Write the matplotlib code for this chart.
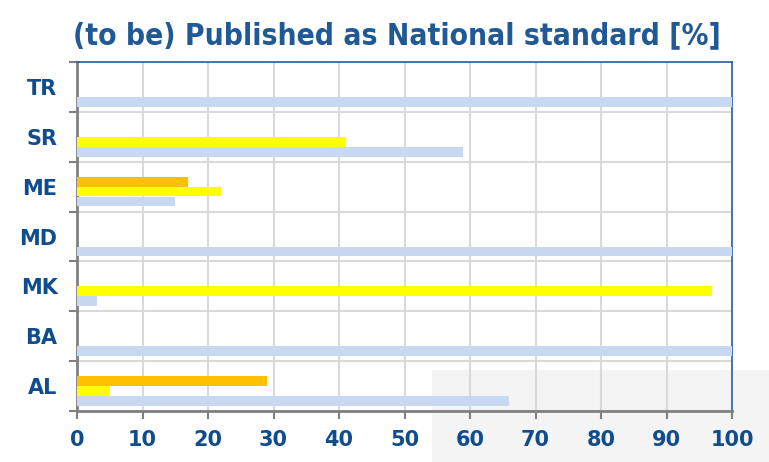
import matplotlib
matplotlib.use("Agg")
import matplotlib.pyplot as plt
from matplotlib.patches import Rectangle
import numpy as np

categories = ["AL", "BA", "MK", "MD", "ME", "SR", "TR"]
blue_vals = [66, 100, 3, 100, 15, 59, 100]
yellow_vals = [5, 0, 97, 0, 22, 41, 0]
orange_vals = [29, 0, 0, 0, 17, 0, 0]
x_ticks = [0, 10, 20, 30, 40, 50, 60, 70, 80, 90, 100]
title = "(to be) Published as National standard [%]"

W, H = 769, 462
fig = plt.figure(figsize=(W / 100, H / 100), dpi=100)
fig.patch.set_facecolor("white")
bg = Rectangle((432 / W, 0), 1 - 432 / W, (H - 370) / H,
               transform=fig.transFigure, facecolor="#F4F4F4",
               edgecolor="none", zorder=-10)
fig.patches.append(bg)

ax = fig.add_axes([77 / W, 1 - 411 / H, (732 - 77) / W, (411 - 62) / H])
ax.set_facecolor("none")
ax.set_zorder(1)

y = np.arange(len(categories))
bh = 0.195
ax.barh(y - 0.3, blue_vals, height=bh, color="#C6D9F1", zorder=3)
ax.barh(y - 0.1, yellow_vals, height=bh, color="#FFFF00", zorder=3)
ax.barh(y + 0.1, orange_vals, height=bh, color="#FFC000", zorder=3)

ax.set_xlim(0, 100)
ax.set_ylim(-0.5, len(categories) - 0.5)

label_color = "#0F4D8F"
ax.set_xticks(x_ticks)
ax.set_xticklabels([str(t) for t in x_ticks], fontsize=15, fontweight="bold",
                   color=label_color, family="DejaVu Sans")
ax.set_yticks(y)
ax.set_yticklabels(categories, fontsize=15, fontweight="bold",
                   color=label_color, family="DejaVu Sans")
ax.set_yticks(np.arange(-0.5, len(categories)), minor=True)
ax.tick_params(axis="y", which="major", length=0, pad=14)
ax.tick_params(axis="y", which="minor", length=6, width=1.5, color="#808080")
ax.tick_params(axis="x", which="major", length=6, width=1.5, color="#808080", pad=8)

ax.grid(axis="x", which="major", color="#D9D9D9", linewidth=1.5, zorder=1)
ax.grid(axis="y", which="minor", color="#D9D9D9", linewidth=1.5, zorder=1)
ax.set_axisbelow(True)

for s in ("left", "bottom"):
    ax.spines[s].set_color("#808080")
    ax.spines[s].set_linewidth(2)
for s in ("top", "right"):
    ax.spines[s].set_color("#2E5FA3")
    ax.spines[s].set_linewidth(1.2)

fig.text(397 / W, 1 - 36 / H, title, ha="center", va="center",
         fontsize=21.5, fontweight="bold", color="#1F5A96",
         family="DejaVu Sans", fontstretch="condensed")

fig.savefig("out.png", dpi=100)
